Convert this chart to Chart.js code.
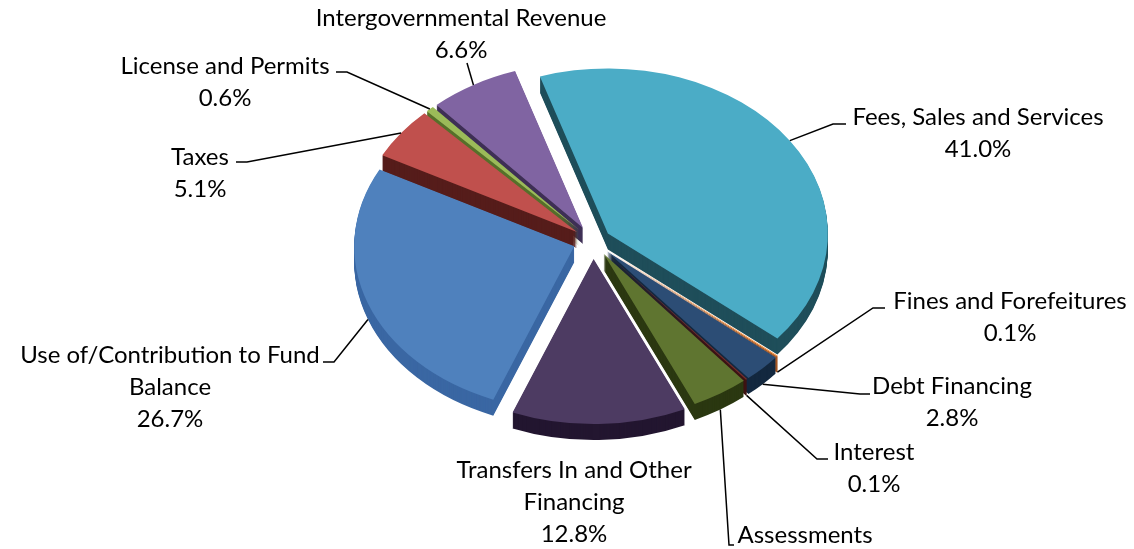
<!DOCTYPE html>
<html>
<head>
<meta charset="utf-8">
<script src="https://cdn.jsdelivr.net/npm/chart.js@4.4.1/dist/chart.umd.min.js"></script>
<style>
  html, body { margin: 0; padding: 0; background: #fff; }
  #wrap { width: 1134px; height: 549px; position: relative; }
</style>
</head>
<body>
<div id="wrap"><canvas id="chart-revenue"></canvas></div>
<script>
// ---- data (share of total revenue, %) in the workbook's series order ----
const categories = [
  'Use of/Contribution to Fund Balance', 'Taxes', 'License and Permits',
  'Intergovernmental Revenue', 'Fees, Sales and Services', 'Fines and Forefeitures',
  'Debt Financing', 'Interest', 'Assessments', 'Transfers In and Other Financing'
];
const shares = [26.7, 5.1, 0.6, 6.6, 41.0, 0.1, 2.8, 0.1, 4.2, 12.8];
// category text as it wraps in the data labels
const labelLines = [
  ['Use of/Contribution to Fund', 'Balance'], ['Taxes'], ['License and Permits'],
  ['Intergovernmental Revenue'], ['Fees, Sales and Services'], ['Fines and Forefeitures'],
  ['Debt Financing'], ['Interest'], ['Assessments'], ['Transfers In and Other', 'Financing']
];

// ---- styling ----
const topColors  = ['#4F81BD', '#C0504D', '#9BBB59', '#8064A2', '#4BACC6', '#F79646', '#2C4D75', '#772C2A', '#5F7530', '#4D3B62'];
const sideColors = ['#3A67A3', '#561D1B', '#56702A', '#3E2F55', '#1F4E5A', '#A0501A', '#13283F', '#3E1313', '#2B3811', '#231630'];
const explode = [20, 20, 20, 20, 18, 20, 20, 20, 20, 24];
const SQUASH = 0.75;   // tilt of the pie
const DEPTH = 16;      // thickness in px
const FONT = '24px Lato';
const LINE_H = 32;

// data label boxes: centre of first text line, leader elbow + tail
const labelBoxes = [
  { x: 170,  y: 355, path: [[334, 362], [323, 362]] },
  { x: 200,  y: 157, path: [[247, 162], [236, 162]] },
  { x: 225,  y: 66,  path: [[347, 72], [336, 72]] },
  { x: 461,  y: 18,  path: [[467, 63]] },
  { x: 978,  y: 117, path: [[833, 124], [846, 124]] },
  { x: 1010, y: 301, path: [[873, 308], [885, 308]] },
  { x: 952,  y: 386, path: [[860, 394], [870, 394]] },
  { x: 874,  y: 452, path: [[817, 459], [828, 459]] },
  { x: 805,  y: 535, path: [[729, 545], [734, 545]] },
  { x: 574,  y: 470, path: [] }
];

function shiftOf(arc, i) {
  const mid = (arc.startAngle + arc.endAngle) / 2;
  return [Math.cos(mid) * explode[i], Math.sin(mid) * explode[i]];
}

function cloneArc(arc, color) {
  const el = new Chart.ArcElement(arc.getProps(['x', 'y', 'startAngle', 'endAngle', 'innerRadius', 'outerRadius', 'circumference'], true));
  el.options = Object.assign({}, arc.options, { backgroundColor: color, borderWidth: 0, offset: 0, spacing: 0 });
  return el;
}

// Draws the pie tilted with a side wall, every slice pulled out
const pie3d = {
  id: 'pie3d',
  beforeDatasetsDraw(chart) {
    const ctx = chart.ctx;
    const arcs = chart.getDatasetMeta(0).data;
    if (!arcs.length) return false;
    const cx = arcs[0].x, cy = arcs[0].y;
    ctx.save();
    ctx.translate(cx, cy); ctx.scale(1, SQUASH); ctx.translate(-cx, -cy);
    for (let d = DEPTH; d >= 1; d--) {
      arcs.forEach((arc, i) => {
        const [ex, ey] = shiftOf(arc, i);
        ctx.save();
        ctx.translate(ex, ey + d / SQUASH);
        cloneArc(arc, sideColors[i]).draw(ctx);
        ctx.restore();
      });
    }
    arcs.forEach((arc, i) => {
      const [ex, ey] = shiftOf(arc, i);
      ctx.save();
      ctx.translate(ex, ey);
      cloneArc(arc, topColors[i]).draw(ctx);
      ctx.restore();
    });
    ctx.restore();
    return false;
  },
  afterDraw(chart) {
    const ctx = chart.ctx;
    const arcs = chart.getDatasetMeta(0).data;
    if (!arcs.length) return;
    const cx = arcs[0].x, cy = arcs[0].y;
    ctx.save();
    ctx.strokeStyle = '#000';
    ctx.lineWidth = 1.5;
    arcs.forEach((arc, i) => {
      const box = labelBoxes[i];
      if (!box.path.length) return;
      const mid = (arc.startAngle + arc.endAngle) / 2;
      const [ex, ey] = shiftOf(arc, i);
      const px = cx + ex + Math.cos(mid) * arc.outerRadius;
      let py = cy + (ey + Math.sin(mid) * arc.outerRadius) * SQUASH;
      if (Math.sin(mid) > 0) py += DEPTH;   // front slices: hook onto the side wall
      ctx.beginPath();
      ctx.moveTo(px, py);
      box.path.forEach(p => ctx.lineTo(p[0], p[1]));
      ctx.stroke();
    });
    ctx.fillStyle = '#000';
    ctx.font = FONT;
    ctx.textAlign = 'center';
    ctx.textBaseline = 'middle';
    categories.forEach((c, i) => {
      const box = labelBoxes[i];
      const lines = labelLines[i].concat([shares[i].toFixed(1) + '%']);
      lines.forEach((t, j) => ctx.fillText(t, box.x, box.y + j * LINE_H));
    });
    ctx.restore();
  }
};

new Chart(document.getElementById('chart-revenue'), {
  type: 'pie',
  data: {
    labels: categories,
    datasets: [{ data: shares, backgroundColor: topColors, borderWidth: 0, clip: false }]
  },
  options: {
    responsive: true, maintainAspectRatio: false,
    animation: false,
    rotation: 201.6,
    radius: 220,
    layout: { padding: { left: 52, right: 0, top: 0, bottom: 67 } },
    plugins: { legend: { display: false }, tooltip: { enabled: false } }
  },
  plugins: [pie3d]
});
</script>
</body>
</html>
